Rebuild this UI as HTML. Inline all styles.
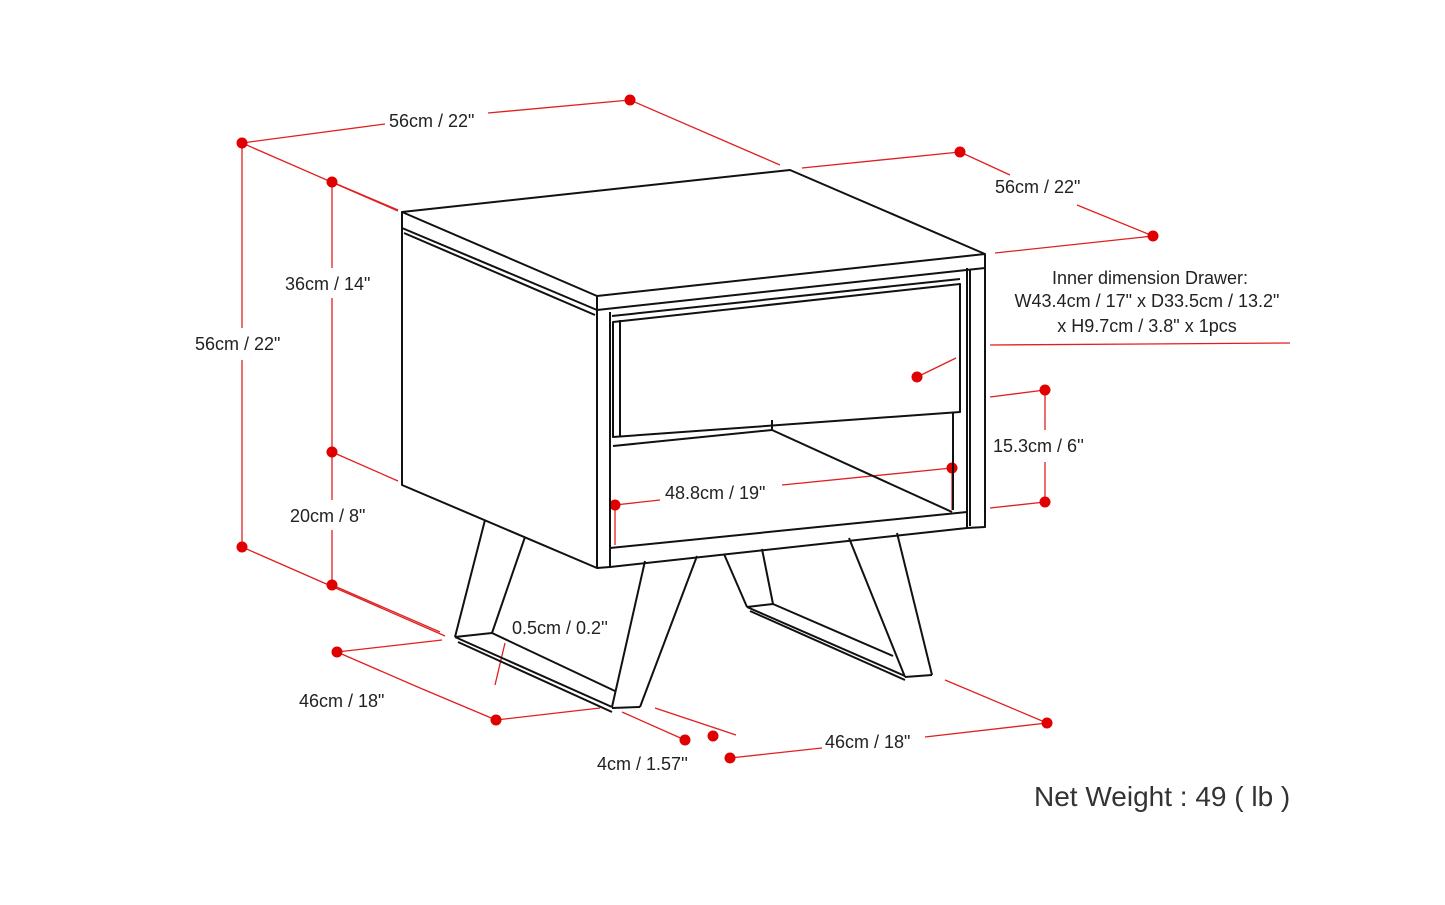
<!DOCTYPE html>
<html><head><style>
html,body{margin:0;padding:0;background:#fff;}
svg{display:block;}
text{font-family:"Liberation Sans",sans-serif;font-size:18px;fill:#222;}
</style></head><body>
<svg width="1445" height="905" viewBox="0 0 1445 905" xmlns="http://www.w3.org/2000/svg">
<g stroke="#e02020" stroke-width="1.3" fill="none">
<!-- top width -->
<line x1="242" y1="143" x2="385" y2="124"/><line x1="488" y1="113" x2="630" y2="100"/>
<line x1="242" y1="143" x2="398" y2="211"/><line x1="630" y1="100" x2="780" y2="165"/>
<!-- depth -->
<line x1="802" y1="168" x2="960" y2="152"/><line x1="960" y1="152" x2="1010" y2="175"/>
<line x1="1077" y1="205" x2="1153" y2="236"/><line x1="995" y1="253" x2="1153" y2="236"/>
<!-- 56 height -->
<line x1="242" y1="143" x2="242" y2="328"/><line x1="242" y1="360" x2="242" y2="547"/>
<line x1="242" y1="547" x2="445" y2="636"/>
<!-- 36 / 20 -->
<line x1="332" y1="182" x2="332" y2="268"/><line x1="332" y1="298" x2="332" y2="500"/><line x1="332" y1="530" x2="332" y2="585"/>
<line x1="332" y1="182" x2="398" y2="210"/><line x1="332" y1="452" x2="398" y2="481"/>
<line x1="332" y1="585" x2="440" y2="632"/>
<!-- 46 left -->
<line x1="337" y1="652" x2="442" y2="640"/><line x1="337" y1="652" x2="420" y2="688"/>
<line x1="420" y1="688" x2="496" y2="720"/><line x1="496" y1="720" x2="600" y2="708"/>
<!-- 4cm -->
<line x1="622" y1="712" x2="685" y2="740"/><line x1="655" y1="708" x2="736" y2="735"/>
<!-- 46 right -->
<line x1="730" y1="758" x2="822" y2="748"/><line x1="925" y1="737" x2="1047" y2="723"/>
<line x1="945" y1="680" x2="1047" y2="723"/>
<!-- 15.3 -->
<line x1="1045" y1="390" x2="1045" y2="430"/><line x1="1045" y1="462" x2="1045" y2="502"/>
<line x1="990" y1="397" x2="1045" y2="390"/><line x1="990" y1="508" x2="1045" y2="502"/>
<!-- 48.8 -->
<line x1="615" y1="505" x2="660" y2="500"/><line x1="782" y1="485" x2="952" y2="468"/>
<line x1="615" y1="505" x2="615" y2="545"/><line x1="952" y1="468" x2="952" y2="510"/>
<!-- drawer -->
<line x1="917" y1="377" x2="956" y2="358"/><line x1="990" y1="345" x2="1290" y2="343"/>
<!-- 0.5 -->
<line x1="505" y1="643" x2="495" y2="685"/>
</g>
<g fill="#e00000">
<circle cx="242" cy="143" r="5.5"/><circle cx="630" cy="100" r="5.5"/><circle cx="960" cy="152" r="5.5"/><circle cx="1153" cy="236" r="5.5"/>
<circle cx="242" cy="547" r="5.5"/><circle cx="332" cy="182" r="5.5"/><circle cx="332" cy="452" r="5.5"/><circle cx="332" cy="585" r="5.5"/>
<circle cx="337" cy="652" r="5.5"/><circle cx="496" cy="720" r="5.5"/><circle cx="685" cy="740" r="5.5"/><circle cx="713" cy="736" r="5.5"/>
<circle cx="730" cy="758" r="5.5"/><circle cx="1047" cy="723" r="5.5"/><circle cx="1045" cy="390" r="5.5"/><circle cx="1045" cy="502" r="5.5"/>
<circle cx="615" cy="505" r="5.5"/><circle cx="952" cy="468" r="5.5"/><circle cx="917" cy="377" r="5.5"/>
</g>
<!-- furniture -->
<g stroke="#111" stroke-width="2" fill="none" stroke-linejoin="round">
<polygon points="402,212 790,170 985,254 597,296"/>
<polyline points="402,212 402,228 597,310 985,268 985,254"/>
<line x1="597" y1="296" x2="597" y2="310"/>
<polyline points="402,228 402,485 597,568 610,567 610,312"/>
<line x1="597" y1="310" x2="597" y2="568"/>
<line x1="404" y1="233" x2="595" y2="315"/>
<polyline points="967,268 967,528 985,527 985,268"/>
<line x1="610" y1="548" x2="967" y2="512"/>
<line x1="610" y1="567" x2="967" y2="528"/>
<line x1="970" y1="270" x2="970" y2="526"/>
<line x1="612" y1="316" x2="960" y2="279"/>
<polygon points="613,322 960,284 960,412 613,437"/>
<line x1="620" y1="320" x2="620" y2="436"/>
<line x1="613" y1="446" x2="772" y2="430"/>
<line x1="772" y1="420" x2="772" y2="430"/>
<line x1="772" y1="430" x2="952" y2="512"/>
<line x1="953" y1="412" x2="953" y2="510"/>
<!-- left leg -->
<line x1="485" y1="520" x2="455" y2="637"/>
<line x1="525" y1="537" x2="492" y2="633"/>
<polyline points="455,637 492,633 615,691"/>
<line x1="455" y1="637" x2="612" y2="707"/>
<line x1="458" y1="642" x2="612" y2="712"/>
<line x1="645" y1="561" x2="612" y2="707"/>
<line x1="697" y1="556" x2="640" y2="707"/>
<line x1="612" y1="708" x2="640" y2="707"/>
<!-- right leg -->
<line x1="724" y1="554" x2="747" y2="607"/>
<line x1="762" y1="549" x2="773" y2="604"/>
<polyline points="747,607 773,604 893,656"/>
<line x1="747" y1="607" x2="905" y2="676"/>
<line x1="750" y1="611" x2="905" y2="680"/>
<line x1="849" y1="538" x2="905" y2="677"/>
<line x1="897" y1="533" x2="932" y2="675"/>
<line x1="905" y1="677" x2="932" y2="675"/>
</g>
<!-- labels -->
<text x="389" y="127">56cm / 22"</text>
<text x="995" y="193">56cm / 22"</text>
<text x="195" y="350">56cm / 22"</text>
<text x="285" y="290">36cm / 14"</text>
<text x="290" y="522">20cm / 8"</text>
<text x="299" y="707">46cm / 18"</text>
<text x="597" y="770">4cm / 1.57''</text>
<text x="825" y="748">46cm / 18"</text>
<text x="993" y="452">15.3cm / 6''</text>
<text x="665" y="499">48.8cm / 19"</text>
<text x="512" y="634">0.5cm / 0.2''</text>
<text x="1150" y="284" text-anchor="middle">Inner dimension Drawer:</text>
<text x="1147" y="307" text-anchor="middle">W43.4cm / 17" x D33.5cm / 13.2"</text>
<text x="1147" y="332" text-anchor="middle">x H9.7cm / 3.8" x 1pcs</text>
<text x="1034" y="806" style="font-size:28px;fill:#333">Net Weight : 49 ( lb )</text>
</svg>
</body></html>
